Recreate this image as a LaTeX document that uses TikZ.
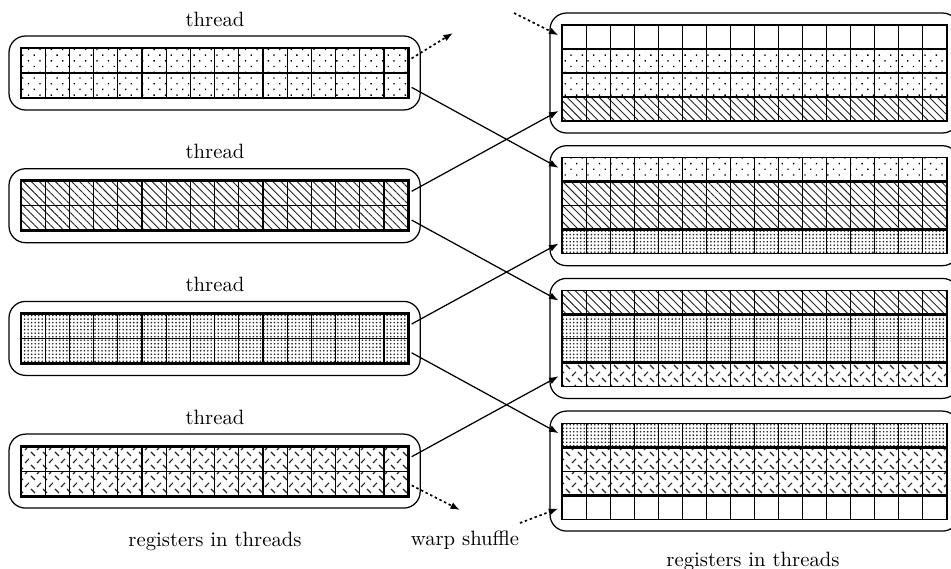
\documentclass[tikz,border=0pt]{standalone}
\usetikzlibrary{patterns.meta,arrows.meta,fit,calc}

\tikzdeclarepattern{
  name=dashmix,
  type=uncolored,
  bottom left={(0pt,0pt)},
  top right={(6pt,6pt)},
  tile size={(6pt,6pt)},
  code={
    \draw[line width=0.6pt] (0.5pt,3.5pt) -- (2.5pt,5.5pt);
    \draw[line width=0.6pt] (3.5pt,2.5pt) -- (5.5pt,0.5pt);
  }
}

\begin{document}
\begin{tikzpicture}[x=0.483pt,y=-0.483pt,
  patA/.style={pattern={Dots[angle=45,distance=3.9pt,radius=0.45pt]},pattern color=black},
  patB/.style={pattern={Lines[angle=-45,distance=2.75pt,line width=0.45pt]},pattern color=black!85},
  patC/.style={pattern={Dots[distance=1.7pt,radius=0.44pt]},pattern color=black!85},
  patD/.style={pattern=dashmix,pattern color=black!85},
  patN/.style={},
  lrow/.style={draw=black,line width=0.5pt,inner sep=0pt,outer sep=0pt,anchor=north west,
    minimum width=387.2*0.483pt,minimum height=25*0.483pt},
  rrow/.style={draw=black,line width=0.5pt,inner sep=0pt,outer sep=0pt,anchor=north west,
    minimum width=385*0.483pt,minimum height=24*0.483pt},
  cellline/.style={line width=0.5pt},
  thickframe/.style={draw,line width=1.4pt,inner sep=0pt,outer sep=0pt},
  groupbox/.style={draw,line width=0.6pt,rounded corners=8pt,inner sep=12*0.483pt,outer sep=0pt},
  conn/.style={line width=0.6pt,-{Latex[length=4.6pt,width=3.4pt]},shorten <=1.9pt,shorten >=1.9pt},
  dconn/.style={line width=0.8pt,dash pattern=on 1.2pt off 1.3pt,-{Latex[length=4.6pt,width=3.4pt]}},
  lbl/.style={inner sep=0pt,font=\normalsize}
]
\useasboundingbox (0,0) rectangle (951,569);

% left threads
\foreach \k/\p in {1/patA,2/patB,3/patC,4/patD}{
  \pgfmathsetmacro{\ty}{48+132.7*(\k-1)}
  \node[lrow,\p] (ta\k) at (21,\ty) {};
  \node[lrow,\p] (tb\k) at (ta\k.south west) {};
  \foreach \i in {1,...,15}{
    \draw[cellline] ($(ta\k.north west)+(\i*24.2,0)$) -- ($(tb\k.south west)+(\i*24.2,0)$);
  }
  \node[thickframe,fit=(ta\k)(tb\k)] (tf\k) {};
  \node[groupbox,fit=(tf\k)] (tg\k) {};
  \pgfmathsetmacro{\ly}{19+132.7*(\k-1)}
  \node[lbl] (lab\k) at (215,\ly) {thread};
}

% right groups
\foreach \k/\pa/\pb/\pc in {1/patN/patA/patB,2/patA/patB/patC,3/patB/patC/patD,4/patC/patD/patN}{
  \pgfmathsetmacro{\gy}{25+132.7*(\k-1)}
  \node[rrow,\pa] (ra\k) at (562,\gy) {};
  \node[rrow,\pb] (rb\k) at (ra\k.south west) {};
  \node[rrow,\pb] (rc\k) at (rb\k.south west) {};
  \node[rrow,\pc] (rd\k) at (rc\k.south west) {};
  \foreach \i in {1,...,15}{
    \draw[cellline] ($(ra\k.north west)+(\i*24.0625,0)$) -- ($(rd\k.south west)+(\i*24.0625,0)$);
  }
  \node[thickframe,fit=(rb\k)(rc\k)] (rf\k) {};
  \node[groupbox,fit=(ra\k)(rd\k)] (rg\k) {};
}

% free ends
\coordinate (o1) at (453,33);
\coordinate (o2) at (460,510);
\coordinate (i1) at (514,13);
\coordinate (i2) at (520,523);

% connectors
\draw[conn] (tb1.east) -- (ra2.west);
\draw[conn] (ta2.east) -- (rd1.west);
\draw[conn] (tb2.east) -- (ra3.west);
\draw[conn] (ta3.east) -- (rd2.west);
\draw[conn] (tb3.east) -- (ra4.west);
\draw[conn] (ta4.east) -- (rd3.west);
\draw[dconn,shorten <=1.9pt] (ta1.east) -- (o1);
\draw[dconn,shorten <=1.9pt] (tb4.east) -- (o2);
\draw[dconn,shorten >=1.9pt] (i1) -- (ra1.west);
\draw[dconn,shorten >=1.9pt] (i2) -- (rd4.west);

% texts
\node[lbl] (regL) at (215,541) {registers in threads};
\node[lbl] (regR) at (753,561) {registers in threads};
\node[lbl] (warp) at (465,540) {warp shuffle};
\end{tikzpicture}
\end{document}
